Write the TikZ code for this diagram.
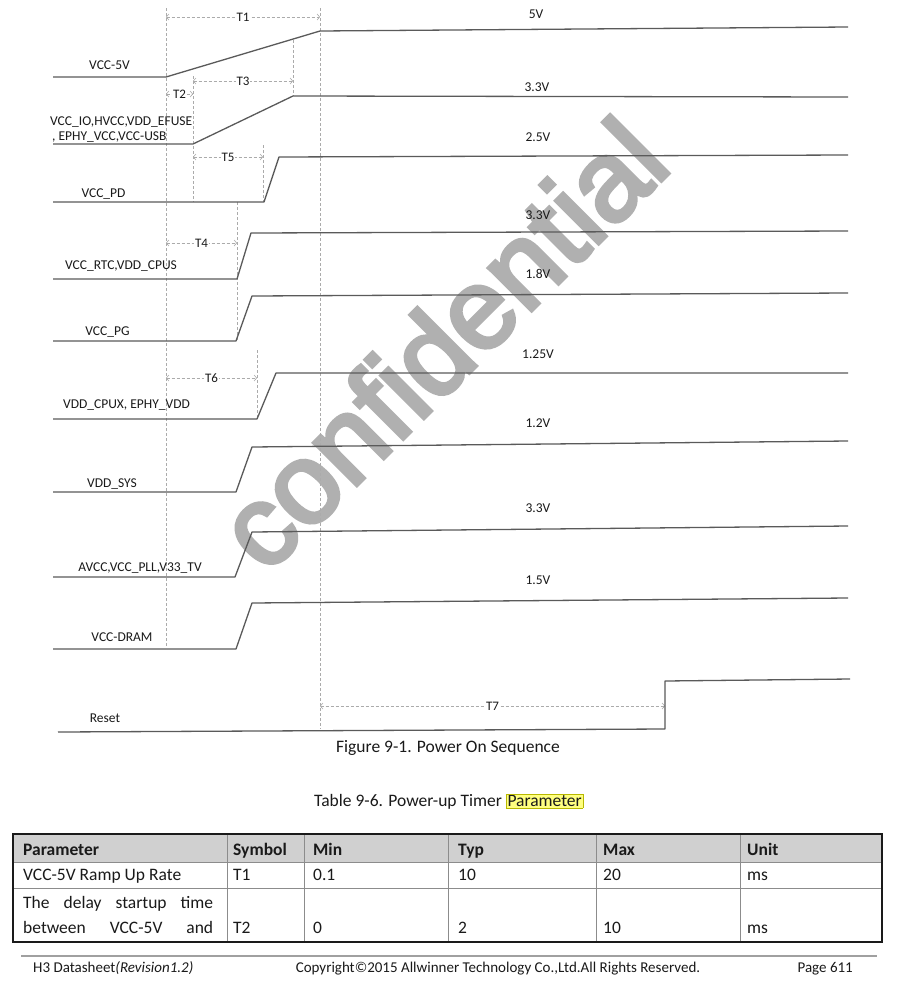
\documentclass[tikz,border=0pt]{standalone}
\usepackage{fontspec}
\setmainfont{Carlito}
\newfontfamily\wmfont[FakeBold=3.5]{Liberation Sans}
\usetikzlibrary{arrows.meta}
\definecolor{wavec}{HTML}{5A5A5A}
\definecolor{guidec}{HTML}{ABABAB}
\definecolor{wmc}{HTML}{B0B0B0}
\definecolor{hdrc}{HTML}{D0D0D0}
\definecolor{hlc}{HTML}{FFFF80}
\definecolor{hlbc}{HTML}{B8B800}
\definecolor{tlinec}{HTML}{8C8C8C}
\definecolor{footc}{HTML}{A0A0A0}
\definecolor{txtc}{HTML}{1A1A1A}
\tikzset{
  wave/.style={draw=wavec, line width=1.3pt, line join=round},
  guide/.style={draw=guidec, line width=0.6pt, dash pattern=on 3pt off 2pt},
  dimarrow/.style={guide, {Straight Barb[length=2.5pt,width=6pt]}-{Straight Barb[length=2.5pt,width=6pt]}},
  dimlbl/.style={fill=white, inner sep=1pt, font=\fontsize{13}{15}\selectfont, text=txtc},
  lbl/.style={font=\fontsize{13.5}{16}\selectfont, text=txtc, inner sep=0pt, anchor=base},
  cell/.style={font=\fontsize{17.5}{20}\selectfont, text=txtc, anchor=base west, inner sep=0pt},
  hcell/.style={cell, font=\fontsize{17.5}{20}\selectfont\bfseries},
  foottxt/.style={font=\fontsize{15}{18}\selectfont, text=txtc, inner sep=0pt},
  gridline/.style={draw=tlinec, line width=0.8pt},
}
\begin{document}
\begin{tikzpicture}[x=1pt,y=-1pt]
\useasboundingbox (0,0) rectangle (898,983);
\fill[white] (0,0) rectangle (898,983);

% watermark
\node[wmc, font=\wmfont\fontsize{114}{114}\selectfont, anchor=base west, rotate=45, inner sep=0pt] (wm) at (266,576) {confidential};

% guide (dashed) lines
\draw[guide] (166,8) -- (166,647);
\draw[guide] (320,8) -- (320,729);
\draw[guide] (193,76) -- (193,202);
\draw[guide] (293,40) -- (293,96);
\draw[guide] (263,145) -- (263,202);
\draw[guide] (237,202) -- (237,341);
\draw[guide] (257,350) -- (257,419);

% dimension arrows
\draw[dimarrow] (166,17) -- node[dimlbl] (t1) {T1} (320,17);
\draw[dimarrow] (193,81) -- node[dimlbl] (t3) {T3} (293,81);
\draw[dimarrow] (166,94) -- node[dimlbl] (t2) {T2} (193,94);
\draw[dimarrow] (193,157) -- node[dimlbl] (t5) {T5} (263,157);
\draw[dimarrow] (166,243) -- node[dimlbl] (t4) {T4} (237,243);
\draw[dimarrow] (166,378) -- node[dimlbl] (t6) {T6} (257,378);
\draw[dimarrow] (320,706) -- node[dimlbl] (t7) {T7} (665,706);

% waveforms
\draw[wave] (53,77) -- (166,77) -- (320,31) -- (848,27);
\draw[wave] (53,144) -- (193,144) -- (293,96) -- (848,97);
\draw[wave] (53,202) -- (264,202) -- (279,157) -- (848,155);
\draw[wave] (53,279) -- (237,279) -- (251,233) -- (848,231);
\draw[wave] (53,341) -- (236,341) -- (252,296) -- (848,293);
\draw[wave] (53,419) -- (257,419) -- (276,373) -- (848,373);
\draw[wave] (53,492) -- (236,492) -- (252,447) -- (848,441);
\draw[wave] (53,577) -- (235,577) -- (252,532) -- (848,526);
\draw[wave] (53,649) -- (236,649) -- (252,603) -- (848,598);
\draw[wave] (58,732) -- (665,729) -- (665,681) -- (850,679);

% signal labels
\node[lbl] (l1) at (109.5,69.4) {VCC-5V};
\node[lbl, anchor=base west] (l2a) at (50,125.4) {VCC\_IO,HVCC,VDD\_EFUSE};
\node[lbl, anchor=base west] (l2b) at (52,140.4) {, EPHY\_VCC,VCC-USB};
\node[lbl] (l3) at (103.5,197.4) {VCC\_PD};
\node[lbl] (l4) at (121,269.4) {VCC\_RTC,VDD\_CPUS};
\node[lbl] (l5) at (107.5,335.4) {VCC\_PG};
\node[lbl] (l6) at (126.5,408.4) {VDD\_CPUX, EPHY\_VDD};
\node[lbl] (l7) at (112,487.4) {VDD\_SYS};
\node[lbl] (l8) at (140,571.4) {AVCC,VCC\_PLL,V33\_TV};
\node[lbl] (l9) at (122,641.4) {VCC-DRAM};
\node[lbl] (l10) at (105,722.4) {Reset};

% voltage labels
\node[lbl] (v1) at (536,18.4) {5V};
\node[lbl] (v2) at (537,91.4) {3.3V};
\node[lbl] (v3) at (538,141.4) {2.5V};
\node[lbl] (v4) at (538,219.4) {3.3V};
\node[lbl] (v5) at (538,278.4) {1.8V};
\node[lbl] (v6) at (538,358.4) {1.25V};
\node[lbl] (v7) at (538,427.4) {1.2V};
\node[lbl] (v8) at (538,512.4) {3.3V};
\node[lbl] (v9) at (538,584.4) {1.5V};

% captions
\node[font=\fontsize{17.5}{20}\selectfont, text=txtc, anchor=base, inner sep=0pt] (cap) at (448,752.5) {Figure 9-1. Power On Sequence};
\node[font=\fontsize{17.5}{20}\selectfont, text=txtc, anchor=base west, inner sep=0pt] (ttl) at (314,806.5) {Table 9-6. Power-up Timer {\setlength{\fboxsep}{1pt}\setlength{\fboxrule}{0.6pt}\fcolorbox{hlbc}{hlc}{Parameter}}};

% table
\fill[hdrc] (13,834) rectangle (882,862);
\draw[gridline] (13,862) -- (882,862);
\draw[gridline] (13,888) -- (882,888);
\foreach \cx in {227,304,448,596,740} { \draw[gridline] (\cx,834) -- (\cx,942); }
\draw[line width=2.2pt, draw=txtc] (13,834) rectangle (882,942);

\node[hcell] (h1) at (23,855.5) {Parameter};
\node[hcell] (h2) at (233,855.5) {Symbol};
\node[hcell] (h3) at (313,855.5) {Min};
\node[hcell] (h4) at (458,855.5) {Typ};
\node[hcell] (h5) at (603,855.5) {Max};
\node[hcell] (h6) at (747,855.5) {Unit};

\node[cell] (r1a) at (23,880.5) {VCC-5V Ramp Up Rate};
\node[cell] (r1b) at (233,880.5) {T1};
\node[cell] (r1c) at (313,880.5) {0.1};
\node[cell] (r1d) at (458,880.5) {10};
\node[cell] (r1e) at (603,880.5) {20};
\node[cell] (r1f) at (747,880.5) {ms};

\node[cell] (r2a1) at (23,908.5) {\makebox[190pt][s]{The delay startup time}};
\node[cell] (r2a2) at (23,933.5) {\makebox[190pt][s]{between VCC-5V and}};
\node[cell] (r2b) at (233,933.5) {T2};
\node[cell] (r2c) at (313,933.5) {0};
\node[cell] (r2d) at (458,933.5) {2};
\node[cell] (r2e) at (603,933.5) {10};
\node[cell] (r2f) at (747,933.5) {ms};

% footer
\draw[draw=footc, line width=2pt] (21,956) -- (877,956);
\node[foottxt, anchor=base west] (f1) at (33,972) {H3 Datasheet\textit{(Revision1.2)}};
\node[foottxt, anchor=base] (f2) at (498,972) {Copyright©2015 Allwinner Technology Co.,Ltd.All Rights Reserved.};
\node[foottxt, anchor=base east] (f3) at (853,972) {Page 611};
\end{tikzpicture}
\end{document}
